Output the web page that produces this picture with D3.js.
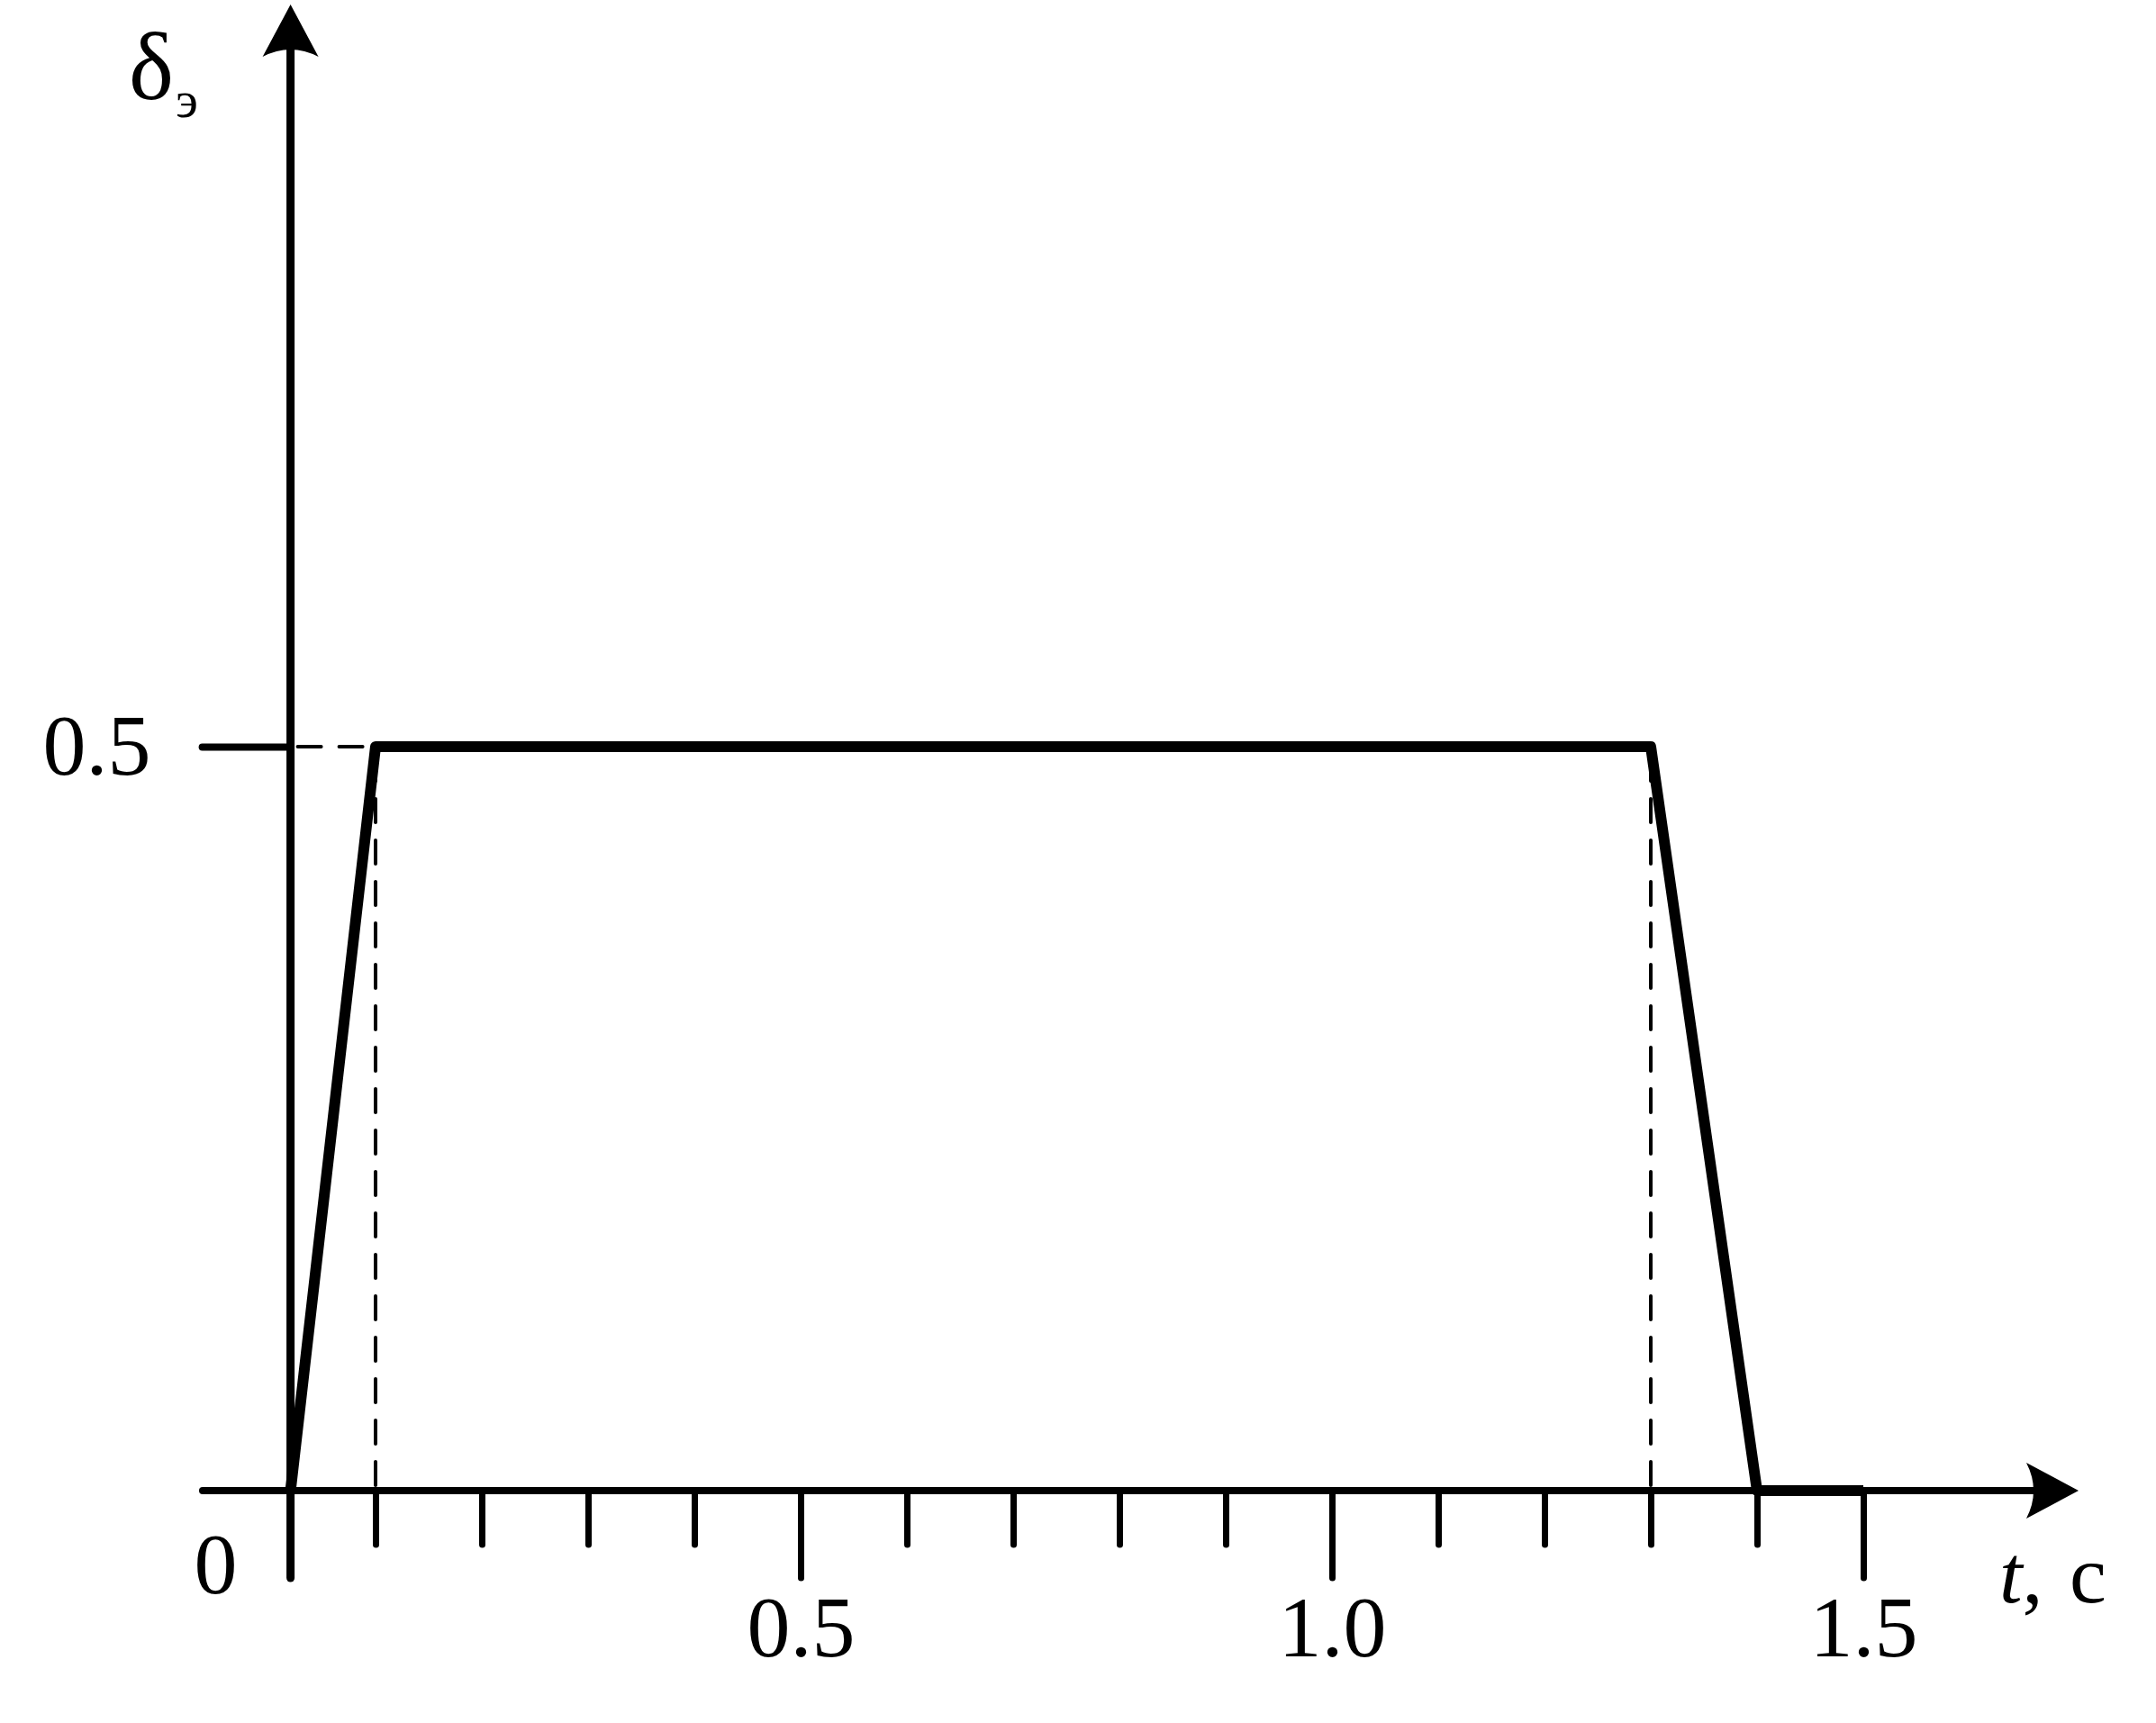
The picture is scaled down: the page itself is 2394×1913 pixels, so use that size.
<!DOCTYPE html>
<html>
<head>
<meta charset="utf-8">
<script src="https://cdn.jsdelivr.net/npm/d3@7"></script>
<style>
  body { margin: 0; background: #fff; }
  svg { display: block; }
  text { font-family: "Liberation Serif", "Times New Roman", serif; fill: #000; }
</style>
</head>
<body>
<div id="chart"></div>
<script>
// pulse shape, t in seconds
const tValues = [0.02, 0.1, 1.3, 1.4, 1.5];
const deltaValues = [0, 0.5, 0.5, 0, 0];

const axisT = 0.02;               // where the vertical axis crosses
const guideT = [0.1, 1.3];        // dashed drop lines
const xMinorTicks = [0.1, 0.2, 0.3, 0.4, 0.6, 0.7, 0.8, 0.9, 1.1, 1.2, 1.3, 1.4];
const xMajorTicks = [0.5, 1.0, 1.5];
const xTickLabels = ["0.5", "1.0", "1.5"];
const yTicks = [0.5];
const yTickLabels = ["0.5"];

const width = 2394, height = 1913;
const black = "#000";

const svg = d3.select("#chart")
    .append("svg")
    .attr("width", width)
    .attr("height", height);

svg.append("rect").attr("width", width).attr("height", height).attr("fill", "#fff");

const x = d3.scaleLinear().domain([0, 1.5]).range([299, 2069]);
const y = d3.scaleLinear().domain([0, 0.5]).range([1655, 829]);

const x0 = x(axisT), y0 = y(0);
const fs = 96;

// arrow head with concave base, pointing along +x before rotation
function arrow(tx, ty, angle) {
    const L = 58, W = 31;
    svg.append("path")
        .attr("d", `M0,0 L${-L},${-W} Q${-L + 16},0 ${-L},${W} Z`)
        .attr("transform", `translate(${tx},${ty}) rotate(${angle})`)
        .attr("fill", black);
}

// x axis line
svg.append("line")
    .attr("x1", 225).attr("x2", 2262)
    .attr("y1", y0).attr("y2", y0)
    .attr("stroke", black).attr("stroke-width", 8).attr("stroke-linecap", "round");
arrow(2308, y0, 0);

// y axis line (runs below x axis as the origin tick)
svg.append("line")
    .attr("x1", x0).attr("x2", x0)
    .attr("y1", y0 + 97).attr("y2", 50)
    .attr("stroke", black).attr("stroke-width", 9).attr("stroke-linecap", "round");
arrow(x0, 5, -90);

// minor ticks
const minorAxis = svg.append("g")
    .attr("transform", `translate(0,${y0})`)
    .call(d3.axisBottom(x).tickValues(xMinorTicks).tickSize(60).tickFormat(""));

// major ticks with labels
const majorAxis = svg.append("g")
    .attr("transform", `translate(0,${y0})`)
    .call(d3.axisBottom(x).tickValues(xMajorTicks).tickSize(97).tickPadding(19)
        .tickFormat((d, i) => xTickLabels[i]));

// y tick
const yAxis = svg.append("g")
    .attr("transform", `translate(${x0},0)`)
    .call(d3.axisLeft(y).tickValues(yTicks).tickSize(98).tickPadding(57)
        .tickFormat((d, i) => yTickLabels[i]));

[minorAxis, majorAxis, yAxis].forEach(g => {
    g.select(".domain").remove();
    g.selectAll(".tick line")
        .attr("stroke", black)
        .attr("stroke-width", 7)
        .attr("stroke-linecap", "round");
    g.selectAll(".tick text")
        .attr("font-size", fs)
        .attr("font-family", "Liberation Serif, serif")
        .attr("fill", black);
});
yAxis.selectAll(".tick line").attr("stroke-width", 8);

// dashed guides
const dash = "26,20";
svg.append("line")
    .attr("x1", x0 + 8).attr("x2", x(guideT[0]) - 6)
    .attr("y1", y(0.5)).attr("y2", y(0.5))
    .attr("stroke", black).attr("stroke-width", 4)
    .attr("stroke-dasharray", dash).attr("stroke-linecap", "round");

svg.selectAll(".guide")
    .data(guideT)
    .enter()
    .append("line")
    .attr("class", "guide")
    .attr("x1", d => x(d)).attr("x2", d => x(d))
    .attr("y1", y(0.5) + 12).attr("y2", y0)
    .attr("stroke", black).attr("stroke-width", 4)
    .attr("stroke-dasharray", dash).attr("stroke-linecap", "round");

// pulse
const line = d3.line()
    .x((d, i) => x(tValues[i]))
    .y(d => y(d));

svg.append("path")
    .datum(deltaValues)
    .attr("d", line)
    .attr("fill", "none")
    .attr("stroke", black)
    .attr("stroke-width", 12)
    .attr("stroke-linejoin", "round")
    .attr("stroke-linecap", "butt");

// origin label
svg.append("text")
    .attr("x", x0 - 83).attr("y", y0 + 114)
    .attr("text-anchor", "middle")
    .attr("font-size", fs)
    .text("0");

// axis titles
const yTitle = svg.append("text")
    .attr("x", 143).attr("y", 110)
    .attr("font-size", 106);
yTitle.append("tspan").text("δ");
yTitle.append("tspan").attr("font-size", 58).attr("dx", 2).attr("dy", 20).text("э");

const xTitle = svg.append("text")
    .attr("y", 1779)
    .attr("font-size", 92);
xTitle.append("tspan").attr("x", 2220).attr("font-style", "italic").text("t");
xTitle.append("tspan").text(",");
xTitle.append("tspan").attr("x", 2298).text("с");
</script>
</body>
</html>
